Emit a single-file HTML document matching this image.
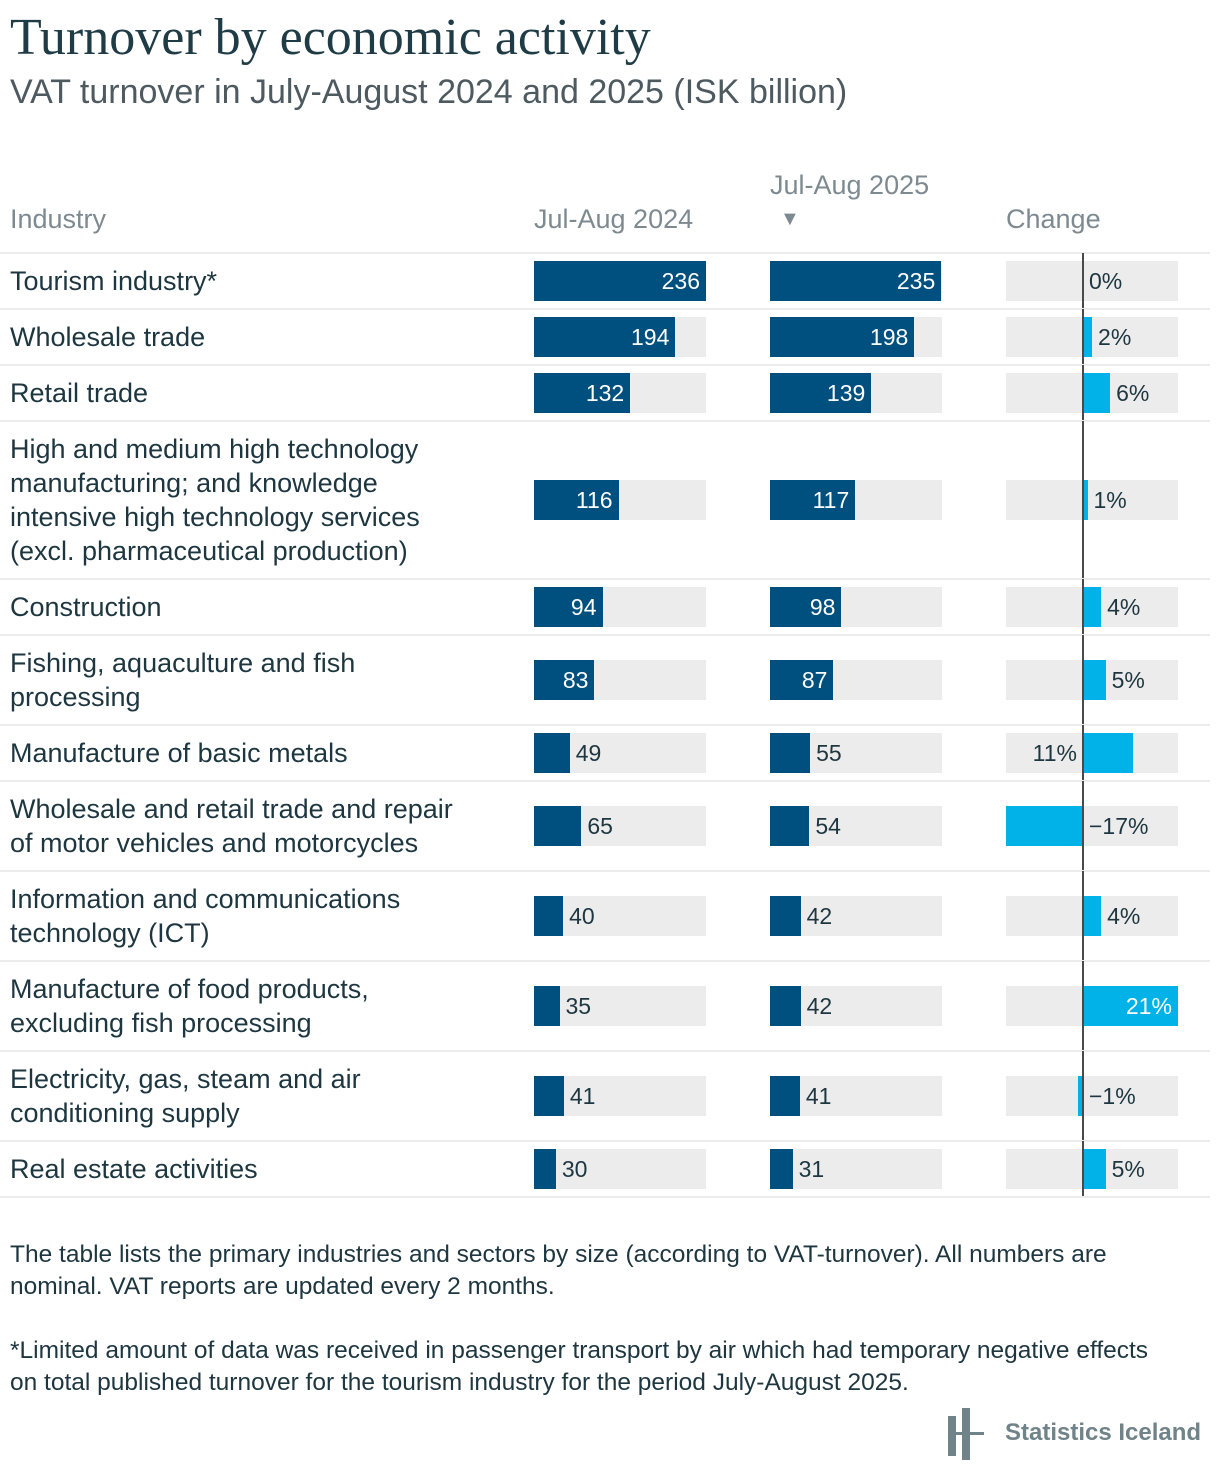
<!DOCTYPE html>
<html><head><meta charset="utf-8">
<style>
body{margin:0;width:1220px;height:1484px;background:#fff;font-family:"Liberation Sans",sans-serif;color:#1d3640;position:relative;overflow:hidden}
.abs{position:absolute}
#title{left:10px;top:8px;font-family:"Liberation Serif",serif;font-size:52px;color:#1f3b45;white-space:nowrap}
#sub{left:10px;top:73px;font-size:34px;color:#4d5a60;white-space:nowrap}
.hdr{font-size:27px;color:#7d8a90;white-space:nowrap}
.lab{font-size:27px;line-height:34px;left:10px;width:500px;color:#1d3640}
.track{background:#ececec;height:40px;width:172px}
.bar{height:40px}
.val{font-size:23px;line-height:40px;white-space:nowrap}
.sep{left:0;width:1210px;height:2px;background:#ececec}
.note{left:10px;font-size:24.5px;line-height:32px;color:#1d3640;width:1160px}
</style></head><body>
<div id="title" class="abs">Turnover by economic activity</div>
<div id="sub" class="abs">VAT turnover in July-August 2024 and 2025 (ISK billion)</div>
<div class="abs hdr" style="left:10px;top:204px">Industry</div>
<div class="abs hdr" style="left:534px;top:204px">Jul-Aug 2024</div>
<div class="abs hdr" style="left:770px;top:170px">Jul-Aug 2025</div>
<div class="abs hdr" style="left:780px;top:208px;font-size:20px">▼</div>
<div class="abs hdr" style="left:1006px;top:204px">Change</div>
<div id="rows"></div>
<div class="abs note" style="top:1239px">The table lists the primary industries and sectors by size (according to VAT-turnover). All numbers are nominal. VAT reports are updated every 2 months.</div>
<div class="abs note" style="top:1335px">*Limited amount of data was received in passenger transport by air which had temporary negative effects on total published turnover for the tourism industry for the period July-August 2025.</div>
<div class="abs" style="left:946px;top:1408px;width:40px;height:52px">
<div class="abs" style="left:2px;top:8px;width:8px;height:40px;background:#6f8388"></div>
<div class="abs" style="left:16px;top:0;width:8px;height:52px;background:#6f8388"></div>
<div class="abs" style="left:2px;top:24px;width:36px;height:3px;background:#6f8388"></div>
</div>
<div class="abs" style="left:1005px;top:1419px;font-size:24px;font-weight:bold;color:#6f8388;white-space:nowrap">Statistics Iceland</div>
<script>
const industries=["Tourism industry*","Wholesale trade","Retail trade","High and medium high technology manufacturing; and knowledge intensive high technology services (excl. pharmaceutical production)","Construction","Fishing, aquaculture and fish processing","Manufacture of basic metals","Wholesale and retail trade and repair of motor vehicles and motorcycles","Information and communications technology (ICT)","Manufacture of food products, excluding fish processing","Electricity, gas, steam and air conditioning supply","Real estate activities"];
const values2024=[236,194,132,116,94,83,49,65,40,35,41,30];
const values2025=[235,198,139,117,98,87,55,54,42,42,41,31];
const changePct=[0,2,6,1,4,5,11,-17,4,21,-1,5];
const labelLines=[1,1,1,4,1,2,1,2,2,2,2,1];
const maxVal=236, trackW=172, zeroX=1083, pxPerPct=4.52;
const rowsEl=document.getElementById('rows');
function mk(cls,style,parent){const d=document.createElement('div');d.className='abs '+cls;d.style.cssText=style;(parent||rowsEl).appendChild(d);return d;}
let y=253;
const sep0=mk('sep','top:'+(y-1)+'px');


function valBar(x,v,cy,key){
  const t=mk('track','left:'+x+'px;top:'+(cy-20)+'px');
  
  
  const w=v/maxVal*trackW;
  const b=mk('bar','left:'+x+'px;top:'+(cy-20)+'px;width:'+w+'px;background:#00507f');
  
  
  const inside=w>55;
  const l=mk('val',inside?('left:'+x+'px;width:'+(w-6)+'px;text-align:right;color:#fff;top:'+(cy-20)+'px'):('left:'+(x+w+6)+'px;color:#1d3640;top:'+(cy-20)+'px'));
  l.textContent=v;
  
  
}
const widths={3:430,5:360,7:470,8:420,9:390,10:370};
industries.forEach((name,i)=>{
  const h=Math.max(56,labelLines[i]*34+22);
  const cy=y+h/2;
  const lab=mk('lab','top:'+(cy-labelLines[i]*17)+'px;'+(widths[i]?'width:'+widths[i]+'px':''));
  lab.textContent=name;
  
  
  valBar(534,values2024[i],cy,'2024');
  valBar(770,values2025[i],cy,'2025');
  const t=mk('track','left:1006px;top:'+(cy-20)+'px');
  
  
  const c=changePct[i], w=Math.abs(c)*pxPerPct;
  const cb=mk('bar','top:'+(cy-20)+'px;background:#00b2e8;width:'+w+'px;left:'+(c>=0?zeroX:zeroX-w)+'px');
  
  
  const ax=mk('','left:'+(zeroX-1)+'px;top:'+y+'px;width:2px;height:'+h+'px;background:#4a4a4a');
  
  
  const txt=(c<0?'\u2212':'')+Math.abs(c)+'%';
  let st;
  if(c>0 && w>80) st='left:'+zeroX+'px;width:'+(w-6)+'px;text-align:right;color:#fff';
  else if(c>0 && w>40) st='left:1006px;width:'+(zeroX-1006-6)+'px;text-align:right;color:#1d3640';
  else st='left:'+(zeroX+Math.max(0,c)*pxPerPct+6)+'px;color:#1d3640';
  const cl=mk('val',st+';top:'+(cy-20)+'px');
  cl.textContent=txt;
  
  
  y+=h;
  const s=mk('sep','top:'+(y-1)+'px');
  
  
});
</script>
</body></html>
